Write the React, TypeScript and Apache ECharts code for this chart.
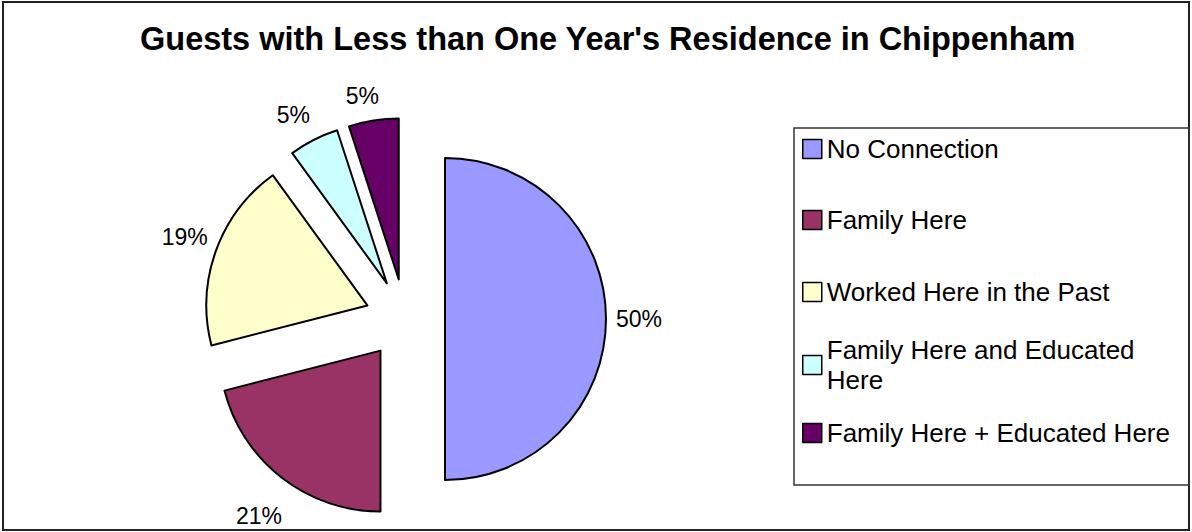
import React, { useEffect, useRef } from "react";
import * as echarts from "echarts";

const titleText = "Guests with Less than One Year's Residence in Chippenham";
const categories = [
  "No Connection",
  "Family Here",
  "Worked Here in the Past",
  "Family Here and Educated Here",
  "Family Here + Educated Here",
];
const values = [50, 21, 19, 5, 5];
const colors = ["#9999FF", "#993366", "#FFFFCC", "#CCFFFF", "#660066"];
const legendLabels = [
  "No Connection",
  "Family Here",
  "Worked Here in the Past",
  "Family Here and Educated\nHere",
  "Family Here + Educated Here",
];
const legendTops = [134, 205, 277, 320, 418];
const labelLineLengths = [
  [5, 0],
  [48.4, -34.9],
  [41, -35.5],
  [28, -14],
  [24.7, -14.3],
];

const FONT = "'Liberation Sans', Arial, sans-serif";

export default function App() {
  const ref = useRef<HTMLDivElement>(null);
  useEffect(() => {
    if (!ref.current) return;
    const chart = echarts.init(ref.current, undefined, { renderer: "svg" });
    const option: any = {
      animation: false,
      backgroundColor: "#ffffff",
      title: {
        text: titleText,
        left: 140,
        top: 22,
        padding: 0,
        textStyle: { fontSize: 32.5, fontWeight: "bold", color: "#000", fontFamily: FONT },
      },
      graphic: [
        {
          type: "rect",
          z: -1,
          shape: { x: 3, y: 2, width: 1186, height: 528 },
          style: { fill: "transparent", stroke: "#222", lineWidth: 2 },
        },
        {
          type: "rect",
          z: -1,
          shape: { x: 794, y: 128, width: 395, height: 357 },
          style: { fill: "transparent", stroke: "#333", lineWidth: 1.5 },
        },
      ],
      legend: categories.map((name, i) => ({
        orient: "vertical",
        left: 802,
        top: legendTops[i],
        padding: 0,
        itemWidth: 19,
        itemHeight: 19,
        itemGap: 0,
        icon: "rect",
        selectedMode: false,
        itemStyle: { borderColor: "#000", borderWidth: 1.5 },
        textStyle: { fontSize: 26, lineHeight: 30, color: "#000", fontFamily: FONT },
        formatter: (n: string) => legendLabels[categories.indexOf(n)],
        data: [
          i === 3
            ? { name, textStyle: { padding: [30, 0, 0, 0] } }
            : { name },
        ],
      })),
      series: [
        {
          type: "pie",
          radius: 161,
          center: [405, 319],
          startAngle: 90,
          clockwise: true,
          selectedMode: "multiple",
          selectedOffset: 40,
          avoidLabelOverlap: false,
          percentPrecision: 0,
          itemStyle: { borderColor: "#000", borderWidth: 2 },
          label: {
            show: true,
            position: "outside",
            formatter: "{d}%",
            fontSize: 23,
            color: "#000",
            fontFamily: FONT,
          },
          labelLine: { show: false },
          emphasis: { disabled: true },
          select: { itemStyle: { borderColor: "#000", borderWidth: 2 } },
          data: categories.map((name, i) => ({
            name,
            value: values[i],
            selected: true,
            itemStyle: { color: colors[i] },
            labelLine: {
              show: false,
              length: labelLineLengths[i][0],
              length2: labelLineLengths[i][1],
            },
          })),
        },
      ],
    };
    chart.setOption(option);
    return () => chart.dispose();
  }, []);
  return (
    <div
      ref={ref}
      style={{ position: "fixed", left: 0, top: 0, width: 1192, height: 532 }}
    />
  );
}
